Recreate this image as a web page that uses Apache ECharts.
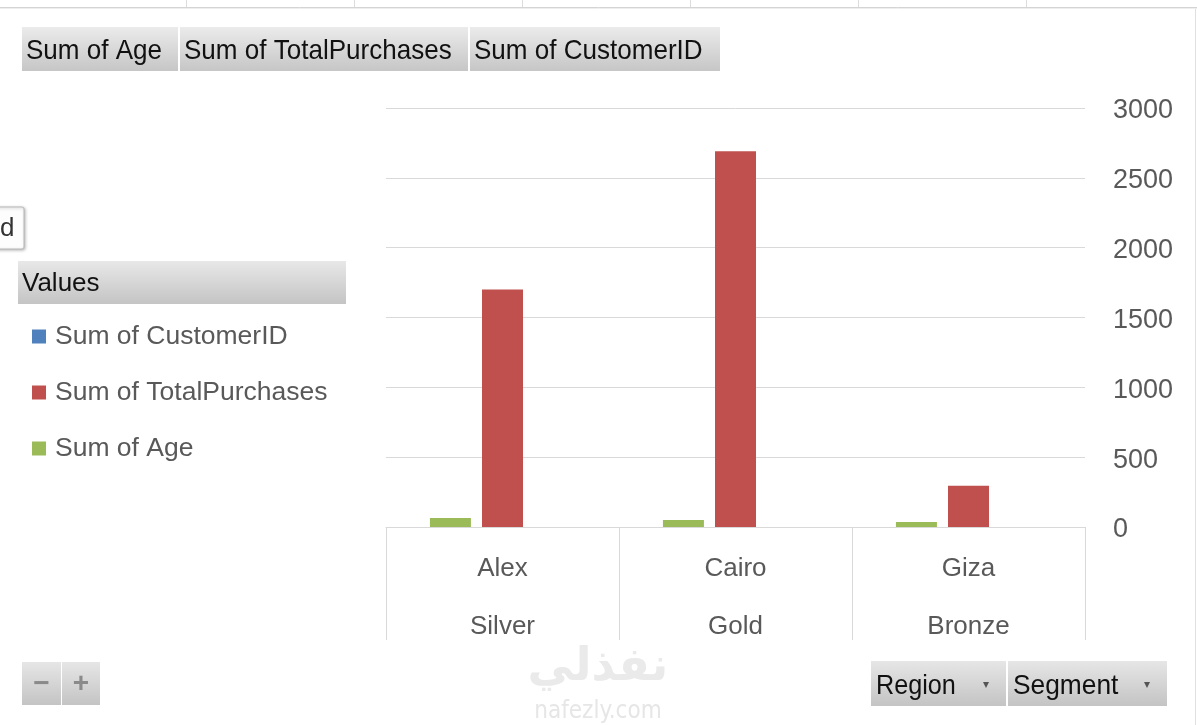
<!DOCTYPE html>
<html>
<head>
<meta charset="utf-8">
<script src="https://cdn.jsdelivr.net/npm/echarts@6/dist/echarts.min.js"></script>
<style>
html,body{margin:0;padding:0;background:#fff;}
#chart{width:1197px;height:725px;}
</style>
</head>
<body>
<div id="chart"></div>
<script>
const regions = ['Alex', 'Cairo', 'Giza'];
const segments = ['Silver', 'Gold', 'Bronze'];
const sumAge = [65, 50, 35];
const sumTotalPurchases = [1700, 2690, 295];
const sumCustomerID = [0, 0, 0];
const yTicks = [0, 500, 1000, 1500, 2000, 2500, 3000];
const fieldButtons = ['Sum of Age', 'Sum of TotalPurchases', 'Sum of CustomerID'];
const legendNames = ['Sum of CustomerID', 'Sum of TotalPurchases', 'Sum of Age'];

const FONT = '"Liberation Sans", Arial, sans-serif';
const grad = (a, b) => ({type:'linear', x:0, y:0, x2:0, y2:1, colorStops:[{offset:0, color:a},{offset:1, color:b}]});

const chart = echarts.init(document.getElementById('chart'));

const graphics = [];
// spreadsheet remnants at top
graphics.push({type:'line', shape:{x1:0, y1:7.5, x2:1197, y2:7.5}, style:{stroke:'#d4d4d4', lineWidth:1}, silent:true});
graphics.push({type:'line', shape:{x1:0, y1:8.5, x2:1197, y2:8.5}, style:{stroke:'#eeeeee', lineWidth:1}, silent:true});
[186, 354, 522, 690, 858, 1026].forEach(x => graphics.push({type:'line', shape:{x1:x+0.5, y1:0, x2:x+0.5, y2:7}, style:{stroke:'#dcdcdc', lineWidth:1}, silent:true}));
graphics.push({type:'line', shape:{x1:1195.5, y1:9, x2:1195.5, y2:725}, style:{stroke:'#e0e0e0', lineWidth:1}, silent:true});

// field buttons top
const btnX = [[22, 178], [180, 468], [470, 720]];
fieldButtons.forEach((t, i) => {
  graphics.push({type:'rect', shape:{x:btnX[i][0], y:27, width:btnX[i][1]-btnX[i][0], height:44}, style:{fill:grad('#ebebeb', '#c6c6c6')}, silent:true});
  graphics.push({type:'text', x:btnX[i][0]+4, y:51, scaleX:0.93, style:{text:t, x:0, y:0, font:'28px ' + FONT, fill:'#111', textVerticalAlign:'middle'}, silent:true});
});

// "d" tooltip remnant
graphics.push({type:'rect', shape:{x:-6, y:207, width:30, height:42, r:2}, style:{fill:'#fdfdfd', stroke:'#b8b8b8', lineWidth:1, shadowBlur:3, shadowColor:'rgba(0,0,0,0.25)', shadowOffsetX:1, shadowOffsetY:1}, silent:true});
graphics.push({type:'text', style:{text:'d', x:0, y:229, font:'26px ' + FONT, fill:'#333', textVerticalAlign:'middle'}, silent:true});

// Values header
graphics.push({type:'rect', shape:{x:18, y:261, width:328, height:43}, style:{fill:grad('#e8e8e8', '#c4c4c4')}, silent:true});
graphics.push({type:'text', style:{text:'Values', x:22, y:284, font:'26px ' + FONT, fill:'#111', textVerticalAlign:'middle'}, silent:true});

// bottom buttons
graphics.push({type:'rect', shape:{x:22, y:662, width:39, height:43}, style:{fill:grad('#e6e6e6', '#c4c4c4')}, silent:true});
graphics.push({type:'rect', shape:{x:62, y:662, width:38, height:43}, style:{fill:grad('#e6e6e6', '#c4c4c4')}, silent:true});
graphics.push({type:'text', style:{text:'−', x:41.5, y:684, font:'bold 28px ' + FONT, fill:'#8a8a8a', textAlign:'center', textVerticalAlign:'middle'}, silent:true});
graphics.push({type:'text', style:{text:'+', x:81, y:684, font:'bold 28px ' + FONT, fill:'#8a8a8a', textAlign:'center', textVerticalAlign:'middle'}, silent:true});

const dd = [['Region', 871, 1006, 0.9], ['Segment', 1008, 1167, 0.94]];
dd.forEach(d => {
  graphics.push({type:'rect', shape:{x:d[1], y:661, width:d[2]-d[1], height:45}, style:{fill:grad('#e6e6e6', '#c4c4c4')}, silent:true});
  graphics.push({type:'text', x:d[1]+5, y:686, scaleX:d[3], style:{text:d[0], x:0, y:0, font:'28px ' + FONT, fill:'#111', textVerticalAlign:'middle'}, silent:true});
  graphics.push({type:'text', style:{text:'▾', x:d[2]-20, y:685, font:'12px ' + FONT, fill:'#555', textAlign:'center', textVerticalAlign:'middle'}, silent:true});
});

// watermark
graphics.push({type:'text', style:{text:'نفذلي', x:598, y:668, font:'bold 46px "DejaVu Sans", sans-serif', fill:'#eaeaea', textAlign:'center', textVerticalAlign:'middle'}, silent:true});
graphics.push({type:'text', style:{text:'nafezly.com', x:598, y:712, font:'24px "DejaVu Sans Condensed", sans-serif', fill:'#e6e6e6', textAlign:'center', textVerticalAlign:'middle'}, silent:true});

const option = {
  animation: false,
  backgroundColor: '#ffffff',
  grid: {left: 386, right: 112, top: 108, bottom: 198, containLabel: false},
  legend: {
    orient: 'vertical', left: 32, top: 323, padding: 0,
    data: legendNames,
    icon: 'rect', itemWidth: 14, itemHeight: 14, itemGap: 29,
    textStyle: {fontFamily: FONT, fontSize: 26.5, color: '#595959', lineHeight: 26, padding: [0, 0, 0, 4]},
    selectedMode: false
  },
  xAxis: {
    type: 'category',
    data: regions.map((r, i) => r + '\n' + segments[i]),
    axisLine: {lineStyle: {color: '#d9d9d9', width: 1}},
    axisTick: {show: true, interval: 0, length: 113, alignWithLabel: false, lineStyle: {color: '#d9d9d9', width: 1}},
    axisLabel: {
      interval: 0, margin: 13,
      fontFamily: FONT, fontSize: 26, color: '#595959', lineHeight: 58
    }
  },
  yAxis: {
    type: 'value', position: 'right', min: 0, max: 3000, interval: 500,
    axisLine: {show: false}, axisTick: {show: false},
    splitLine: {lineStyle: {color: '#d9d9d9', width: 1}},
    axisLabel: {margin: 28, align: 'left',
      formatter: v => yTicks.includes(v) ? '{n|' + v + '}' : '',
      rich: {n: {fontFamily: FONT, fontSize: 27, color: '#595959', padding: [6, 0, 0, 0]}}
    }
  },
  series: [
    {name: 'Sum of Age', type: 'bar', data: sumAge, barWidth: 41, barGap: '27%', itemStyle: {color: '#9bbb59'}},
    {name: 'Sum of TotalPurchases', type: 'bar', data: sumTotalPurchases, barWidth: 41, barGap: '27%', itemStyle: {color: '#c0504d'}},
    {name: 'Sum of CustomerID', type: 'bar', data: sumCustomerID, barWidth: 41, barGap: '27%', itemStyle: {color: '#4f81bd'}}
  ],
  graphic: graphics
};
chart.setOption(option);
</script>
</body>
</html>
